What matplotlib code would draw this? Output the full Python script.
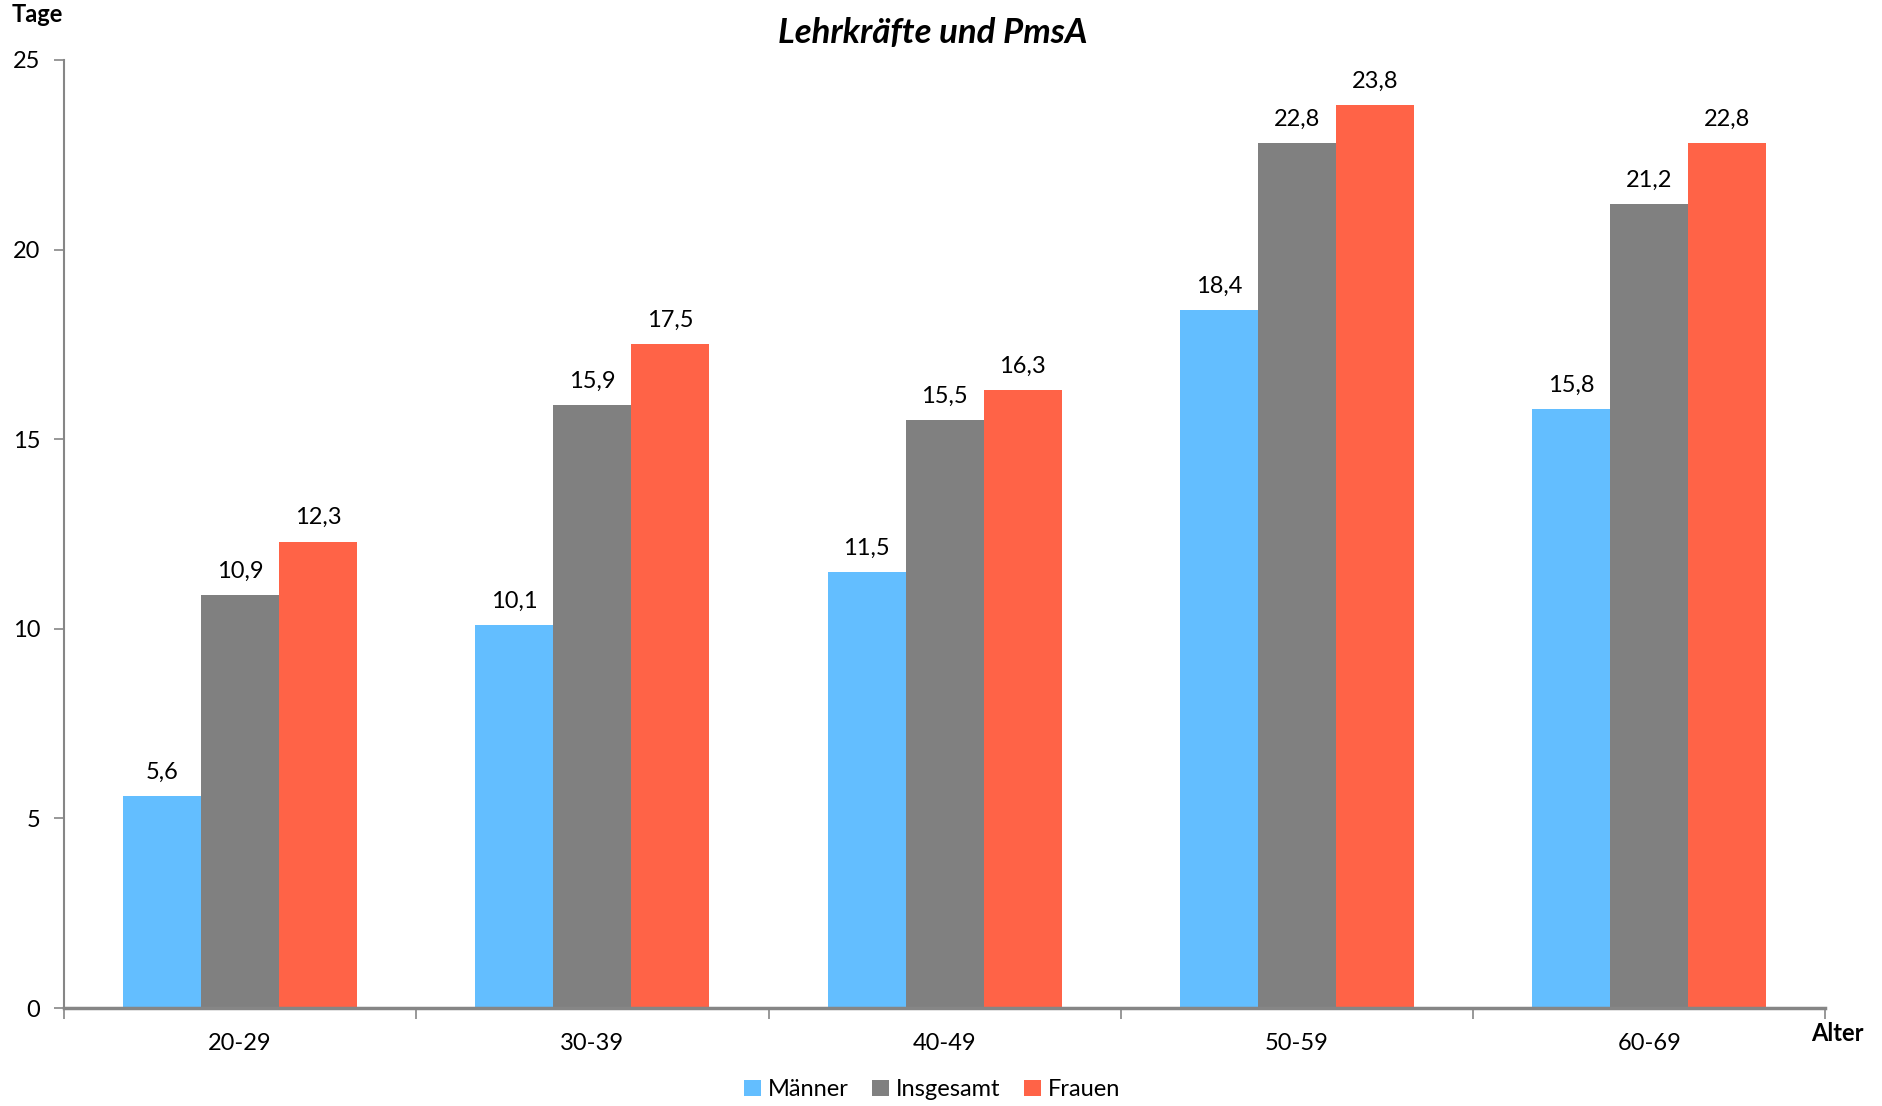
import matplotlib
matplotlib.use("Agg")
import matplotlib.pyplot as plt
import numpy as np
from matplotlib.patches import Patch

plt.rcParams['font.family'] = ['Lato', 'DejaVu Sans']

categories = ["20-29", "30-39", "40-49", "50-59", "60-69"]
series_names = ["Männer", "Insgesamt", "Frauen"]
maenner = [5.6, 10.1, 11.5, 18.4, 15.8]
insgesamt = [10.9, 15.9, 15.5, 22.8, 21.2]
frauen = [12.3, 17.5, 16.3, 23.8, 22.8]
colors = ["#63BEFF", "#808080", "#FF6347"]
yticks = [0, 5, 10, 15, 20, 25]

fig = plt.figure(figsize=(18.83, 11.06), dpi=100)
ax = fig.add_axes([0.034, 0.0886, 0.9354, 0.8572])

x = np.arange(len(categories))
w = 0.2215
for i, (vals, c) in enumerate(zip([maenner, insgesamt, frauen], colors)):
    pos = x + (i - 1) * w
    ax.bar(pos, vals, width=w, color=c, edgecolor='none', zorder=2)
    for p, v in zip(pos, vals):
        ax.text(p, v + 0.35, f"{v:.1f}".replace('.', ','), ha='center', va='bottom',
                fontsize=17, color='black')

ax.set_xlim(-0.5, len(categories) - 0.5)
ax.set_ylim(0, 25)
ax.set_yticks(yticks)
ax.set_yticklabels([str(t) for t in yticks], fontsize=17)

ax.set_xticks(x)
ax.set_xticklabels(categories, fontsize=17)
ax.tick_params(axis='x', length=0, pad=18)
ax.set_xticks(np.arange(-0.5, len(categories)), minor=True)
ax.tick_params(axis='x', which='minor', length=8, width=1.2, color='#868686', direction='out')
ax.tick_params(axis='y', length=7, width=1.2, color='#868686', direction='out', pad=10)

for s in ['top', 'right']:
    ax.spines[s].set_visible(False)
ax.spines['left'].set_color('#868686')
ax.spines['left'].set_linewidth(1.5)
ax.spines['bottom'].set_color('#868686')
ax.spines['bottom'].set_linewidth(2.5)

fig.text(0.0064, 0.9865, "Tage", fontsize=17, fontweight='bold', ha='left', va='center')
fig.text(0.9895, 0.0655, "Alter", fontsize=17, fontweight='bold', ha='right', va='center')
fig.text(0.4955, 0.970, "Lehrkräfte und PmsA", fontsize=25, fontweight='bold', style='italic',
         ha='center', va='center')

handles = [Patch(facecolor=c, edgecolor='none') for c in colors]
fig.legend(handles, series_names, loc='center', bbox_to_anchor=(0.495, 0.0145), ncol=3,
           frameon=False, fontsize=17, handlelength=0.7, handleheight=0.7,
           handletextpad=0.3, columnspacing=1.0)

fig.savefig("out.png", dpi=100)
